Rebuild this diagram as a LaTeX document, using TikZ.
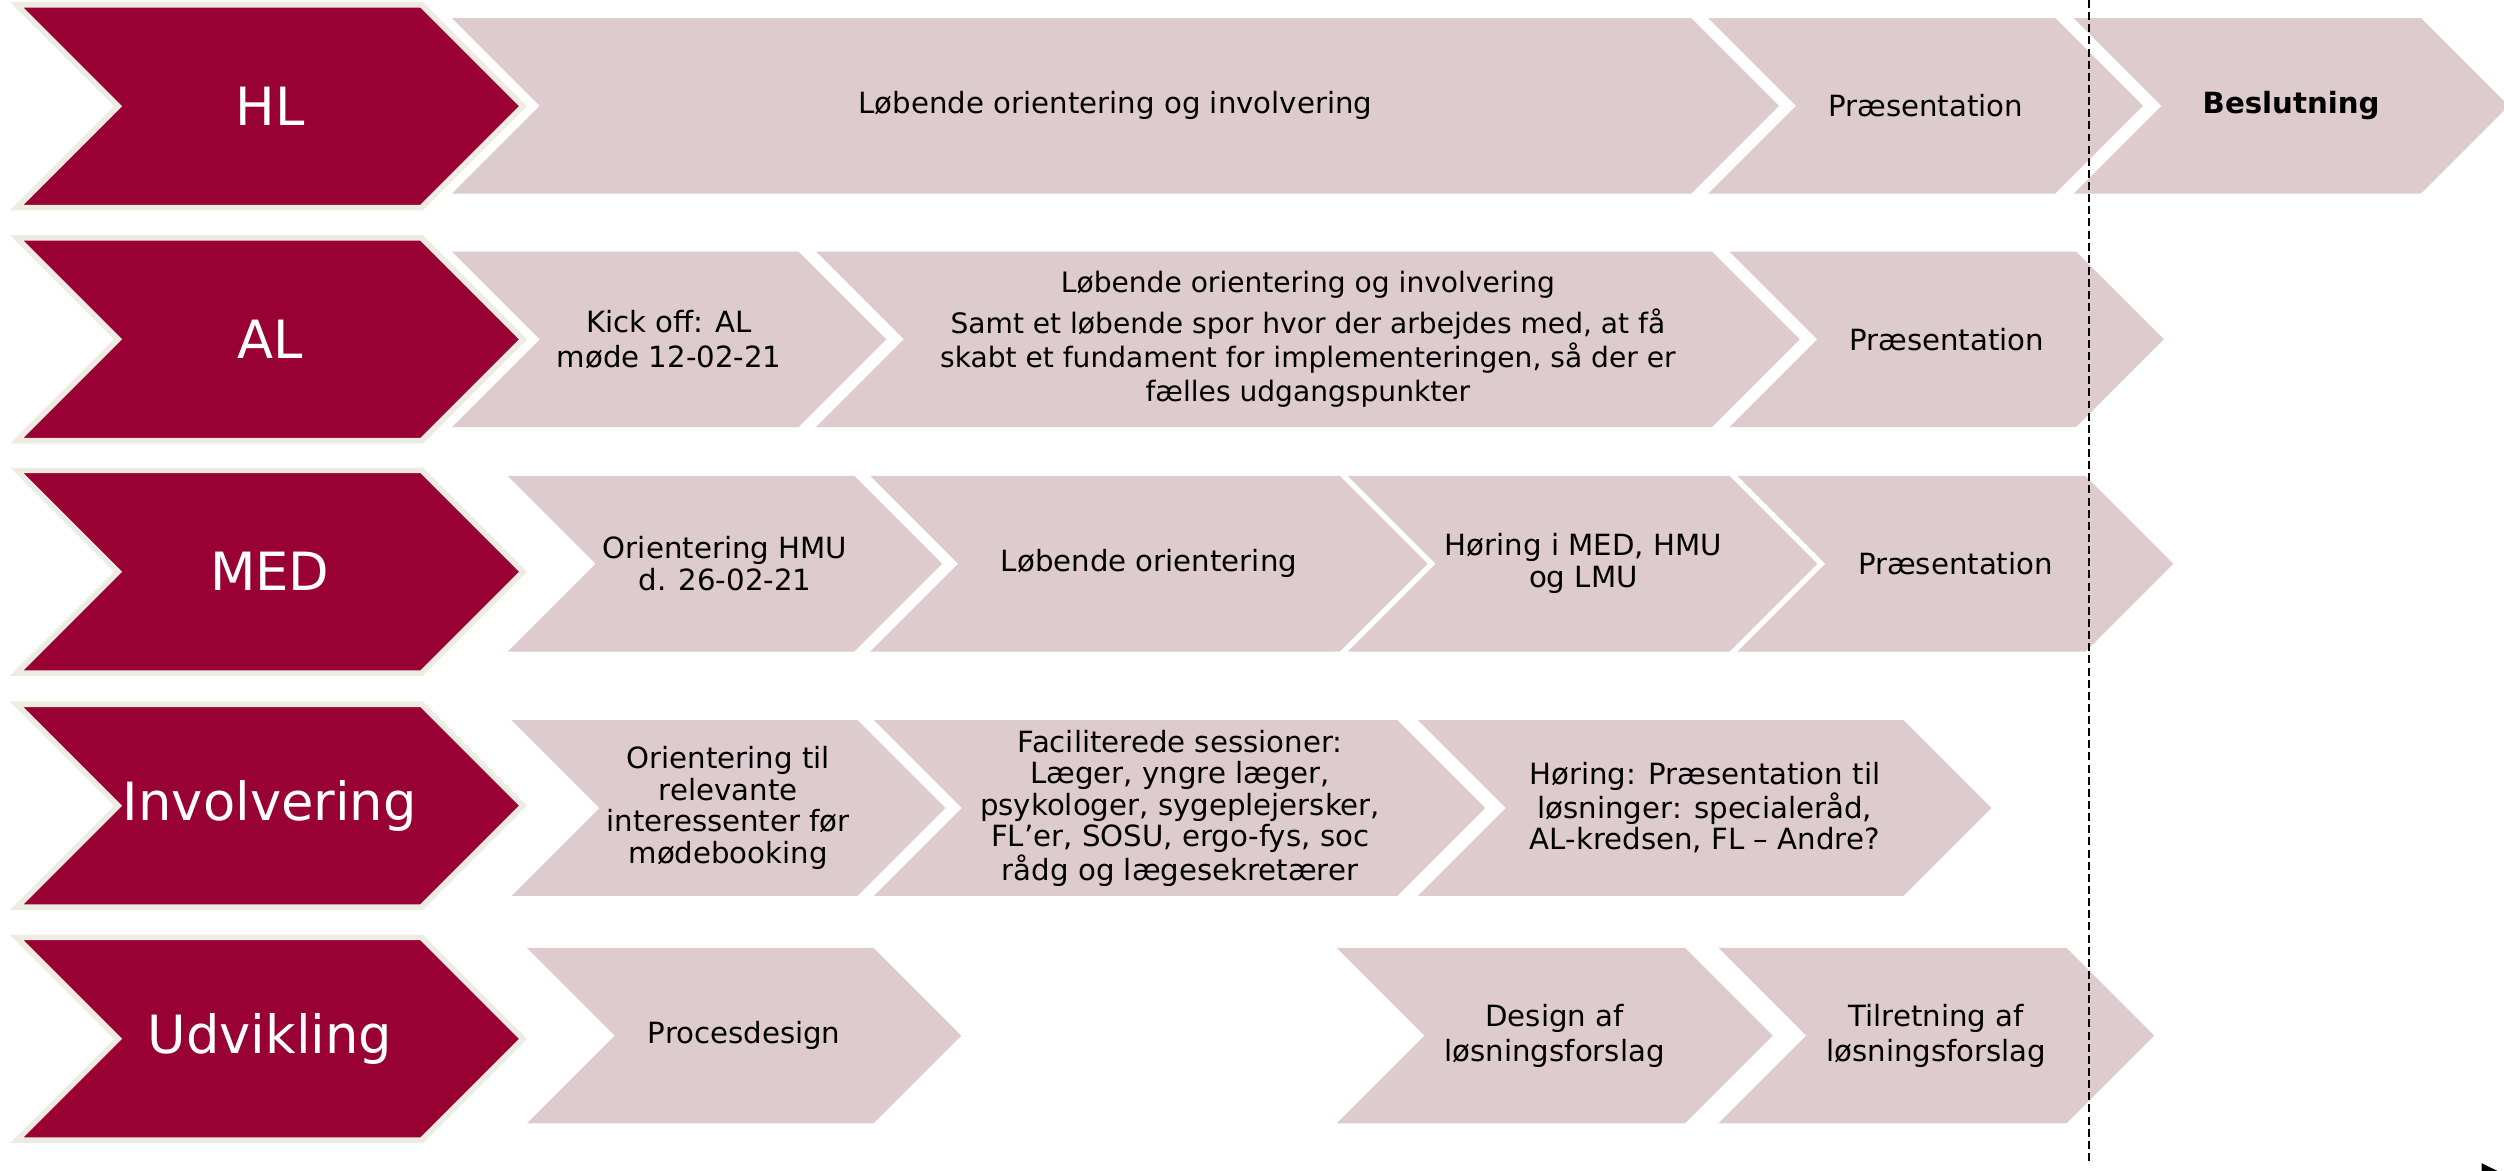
\documentclass[tikz,border=0pt]{standalone}
\usepackage{fontspec}
\setmainfont{DejaVu Sans}
\definecolor{darkred}{HTML}{990033}
\definecolor{lightpink}{HTML}{DDCBCE}
\definecolor{creamline}{HTML}{EEECE1}
\newcommand\lightchev[3]{%
  \fill[lightpink] (#1,#3-55) -- (#2,#3-55) -- (#2+55,#3) -- (#2,#3+55) -- (#1,#3+55) -- (#1+55,#3) -- cycle;}
\newcommand\darkchev[1]{%
  \filldraw[fill=darkred, draw=creamline, line width=3.5pt, line join=miter]
    (10.5,#1-63.5) -- (264,#1-63.5) -- (327.5,#1) -- (264,#1+63.5) -- (10.5,#1+63.5) -- (74,#1) -- cycle;}
\tikzset{
  txt/.style={align=center, inner sep=0pt, text=black, font=\fontsize{18.3}{22}\selectfont},
  tighttxt/.style={align=center, inner sep=0pt, text=black, font=\fontsize{18.3}{19.8}\selectfont},
  smalltxt/.style={align=center, inner sep=0pt, text=black, font=\fontsize{17.6}{21.5}\selectfont},
  rowlabel/.style={inner sep=0pt, text=white, font=\fontsize{33}{40}\selectfont},
  cutline/.style={draw=black, line width=1.1pt, dash pattern=on 5pt off 2.6pt}
}
\begin{document}
\begin{tikzpicture}[x=1pt,y=-1pt]
\useasboundingbox (0,0) rectangle (1568,733);
\fill[white] (0,0) rectangle (1568,733);
% light chevrons
% HL row
\lightchev{283}{1059}{66.3}
\lightchev{1069.6}{1287}{66.3}
\lightchev{1298.5}{1516}{66.3}
% AL row
\lightchev{283}{500}{212.5}
\lightchev{511}{1072}{212.5}
\lightchev{1083}{1300}{212.5}
% MED row
\lightchev{318}{535}{353}
\lightchev{545}{839}{353}
\lightchev{844}{1083}{353}
\lightchev{1088}{1306}{353}
% Involvering row
\lightchev{320.4}{537}{506}
\lightchev{547.3}{875}{506}
\lightchev{888}{1192}{506}
% Udvikling row
\lightchev{330}{547}{648.5}
\lightchev{837}{1055}{648.5}
\lightchev{1076}{1294}{648.5}
% dark chevrons
\darkchev{66.5}
\darkchev{212.5}
\darkchev{358}
\darkchev{504.5}
\darkchev{650.5}
% dashed line
\coordinate (dtop) at (1308,0);
\coordinate (dbot) at (1308,727);
\draw[cutline] (dtop) -- (dbot);
% arrow head at bottom right
\begin{scope}
\clip (0,0) rectangle (1568,733);
\fill[black] (1554,728.4) -- (1570,736.2) -- (1554,744) -- cycle;
\end{scope}
% row labels
\node[rowlabel] (hl) at (169,66.5) {HL};
\node[rowlabel] (al) at (169,212.5) {AL};
\node[rowlabel] (med) at (169,358) {MED};
\node[rowlabel] (inv) at (169,504.5) {Involvering};
\node[rowlabel] (udv) at (169,650.5) {Udvikling};
% HL texts
\node[txt] (hl1) at (698.5,66.3) {Løbende orientering og involvering};
\node[txt] (hl2) at (1205.8,66.3) {Præsentation};
\node[txt] (hl3) at (1434.7,66.3) {\bfseries Beslutning};
% AL texts
\node[txt] (al1) at (419,212.5) {Kick off: AL\\møde 12-02-21};
\node[smalltxt] (al2) at (819,212.5) {Løbende orientering og involvering\\[4pt]Samt et løbende spor hvor der arbejdes med, at få\\skabt et fundament for implementeringen, så der er\\fælles udgangspunkter};
\node[txt] (al3) at (1219,212.5) {Præsentation};
% MED texts
\node[tighttxt] (med1) at (454,353) {Orientering HMU\\d. 26-02-21};
\node[txt] (med2) at (719.5,353) {Løbende orientering};
\node[tighttxt] (med3) at (991.5,353) {Høring i MED, HMU\\og LMU};
\node[txt] (med4) at (1224.5,353) {Præsentation};
% Involvering texts
\node[tighttxt] (inv1) at (456,506) {Orientering til\\relevante\\interessenter før\\mødebooking};
\node[tighttxt] (inv2) at (739,506) {Faciliterede sessioner:\\Læger, yngre læger,\\psykologer, sygeplejersker,\\FL’er, SOSU, ergo-fys, soc\\rådg og lægesekretærer};
\node[tighttxt] (inv3) at (1067.5,506) {Høring: Præsentation til\\løsninger: specialeråd,\\AL-kredsen, FL – Andre?};
% Udvikling texts
\node[txt] (udv1) at (466,648.5) {Procesdesign};
\node[txt] (udv2) at (973.5,648.5) {Design af\\løsningsforslag};
\node[txt] (udv3) at (1212.5,648.5) {Tilretning af\\løsningsforslag};
\end{tikzpicture}
\end{document}
